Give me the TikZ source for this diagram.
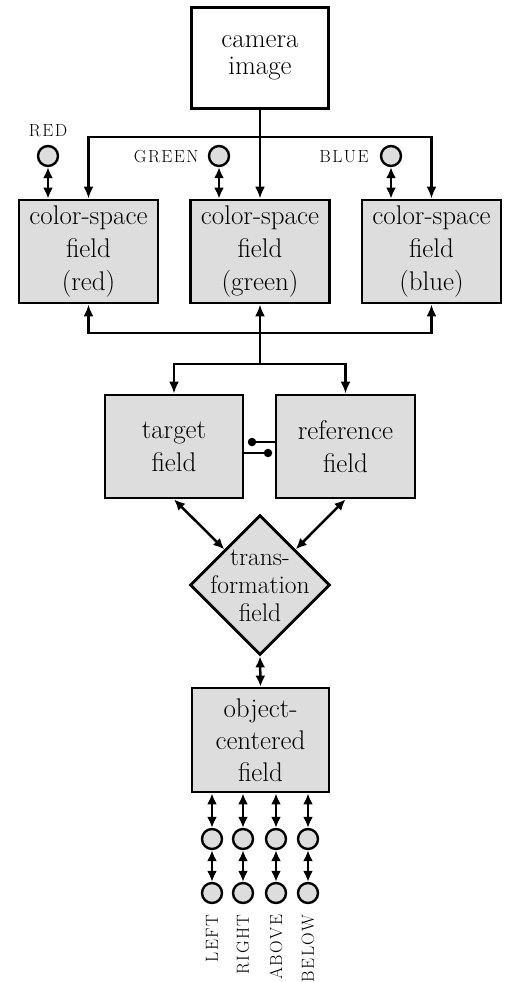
\documentclass[tikz,border=0pt]{standalone}
\usetikzlibrary{arrows.meta,shapes.geometric,calc}
\definecolor{fieldgray}{gray}{0.865}
% spaced capitals for the port labels
\newcommand\lbl[1]{{\fontsize{17.5}{20}\selectfont #1}}
\begin{document}
\begin{tikzpicture}[x=1pt,y=-1pt,
  every node/.style={font=\fontsize{27}{33}\selectfont},
  field/.style={draw,line width=2.8pt,fill=fieldgray,minimum width=139pt,
    minimum height=103pt,inner sep=0pt,align=center},
  port/.style={circle,draw,line width=2.4pt,fill=fieldgray,minimum size=20pt,inner sep=0pt},
  pin/.style={circle,fill=black,minimum size=8.5pt,inner sep=0pt},
  wire/.style={line width=2.5pt},
  arr/.style={wire,-{Latex[length=12pt,width=10pt]}},
  dbl/.style={wire,{Latex[length=11pt,width=10pt]}-{Latex[length=11pt,width=10pt]}}]
\useasboundingbox (0,0) rectangle (513,982);

% camera input
\node[draw,line width=2.8pt,fill=white,minimum width=137pt,minimum height=101pt,
  align=center,inner sep=0pt,font=\fontsize{27}{27}\selectfont] (cam) at (260,58) {camera\\image};

% colour-space fields
\node[field] (red)   at (88.5,251.5) {color-space\\field\\(red)};
\node[field] (green) at (260,251.5)  {color-space\\field\\(green)};
\node[field] (blue)  at (431.5,251.5) {color-space\\field\\(blue)};

% colour ports
\node[port] (rc) at (48,156) {};
\node[port] (gc) at (219,156) {};
\node[port] (bc) at (391,156) {};
\node[anchor=base,inner sep=0pt] at ($(rc)+(0,-20)$) {\lbl{R\kern1.5pt E\kern1.5pt D}};
\node[anchor=base east,inner sep=0pt] at ($(gc.west)+(-9,6)$) {\lbl{G\kern1.5pt R\kern1.5pt E\kern1.5pt E\kern1.5pt N}};
\node[anchor=base east,inner sep=0pt] at ($(bc.west)+(-11,6)$) {\lbl{B\kern1.5pt L\kern1.5pt U\kern1.5pt E}};

% target / reference
\node[field,minimum width=138pt] (target) at (174,446.5) {target\\field};
\node[field,minimum width=139pt] (ref)    at (345.5,446.5) {reference\\field};

% transformation
\node[diamond,draw,line width=2.8pt,fill=fieldgray,minimum width=140pt,minimum height=140pt,
  aspect=1,inner sep=0pt] (dia) at (260,585) {};
\node[align=center,inner sep=0pt,font=\fontsize{25.5}{28}\selectfont] (diatext) at ($(dia.center)+(0,1)$)
  {trans-\\formation\\field};

% object-centered field
\node[field,minimum width=137pt,minimum height=104pt,font=\fontsize{27}{32}\selectfont] (obj) at (260.5,740) {object-\\centered\\field};

% distribution buses
\coordinate (bus1) at (260,137);
\coordinate (bus2) at (260,333);
\coordinate (bus3) at (260,364);
\draw[wire] (cam.south) -- (bus1);
\draw[arr] (bus1) -- (green.north);
\draw[arr] (bus1) -| (red.north);
\draw[arr] (bus1) -| (blue.north);
\draw[arr] (bus2) -| (red.south);
\draw[arr] (bus2) -- (green.south);
\draw[arr] (bus2) -| (blue.south);
\draw[wire] (bus2) -- (bus3);
\draw[arr] (bus3) -| (target.north);
\draw[arr] (bus3) -| (ref.north);

% port links
\draw[dbl] (rc) -- (rc |- red.north);
\draw[dbl] (gc) -- (gc |- green.north);
\draw[dbl] (bc) -- (bc |- blue.north);

% target/reference coupling
\node[pin] (p1) at (252,442) {};
\node[pin] (p2) at (268,453) {};
\draw[wire] (p1) -- (p1 -| ref.west);
\draw[wire] (p2) -- (p2 -| target.east);

% transformation links
\draw[dbl] (target.south) -- (dia.north west);
\draw[dbl] (ref.south) -- (dia.north east);
\draw[dbl] (dia.south) -- (obj.north);

% spatial relation ports
\foreach \n/\x/\t in {l/212/L\kern1.5pt E\kern1.5pt F\kern1.5pt T,
                      r/243/R\kern1.5pt I\kern1.5pt G\kern1.5pt H\kern1.5pt T,
                      a/276/A\kern1.5pt B\kern1.5pt O\kern1.5pt V\kern1.5pt E,
                      b/308/B\kern1.5pt E\kern1.5pt L\kern1.5pt O\kern1.5pt W}{
  \node[port] (\n1) at (\x,839) {};
  \node[port] (\n2) at (\x,893) {};
  \draw[dbl] (\n1) -- (\n1 |- obj.south);
  \draw[dbl] (\n1) -- (\n2);
  \node[rotate=90,anchor=east,inner sep=0pt] at ($(\n2.south)+(0,10)$) {\lbl{\t}};
}
\end{tikzpicture}
\end{document}
